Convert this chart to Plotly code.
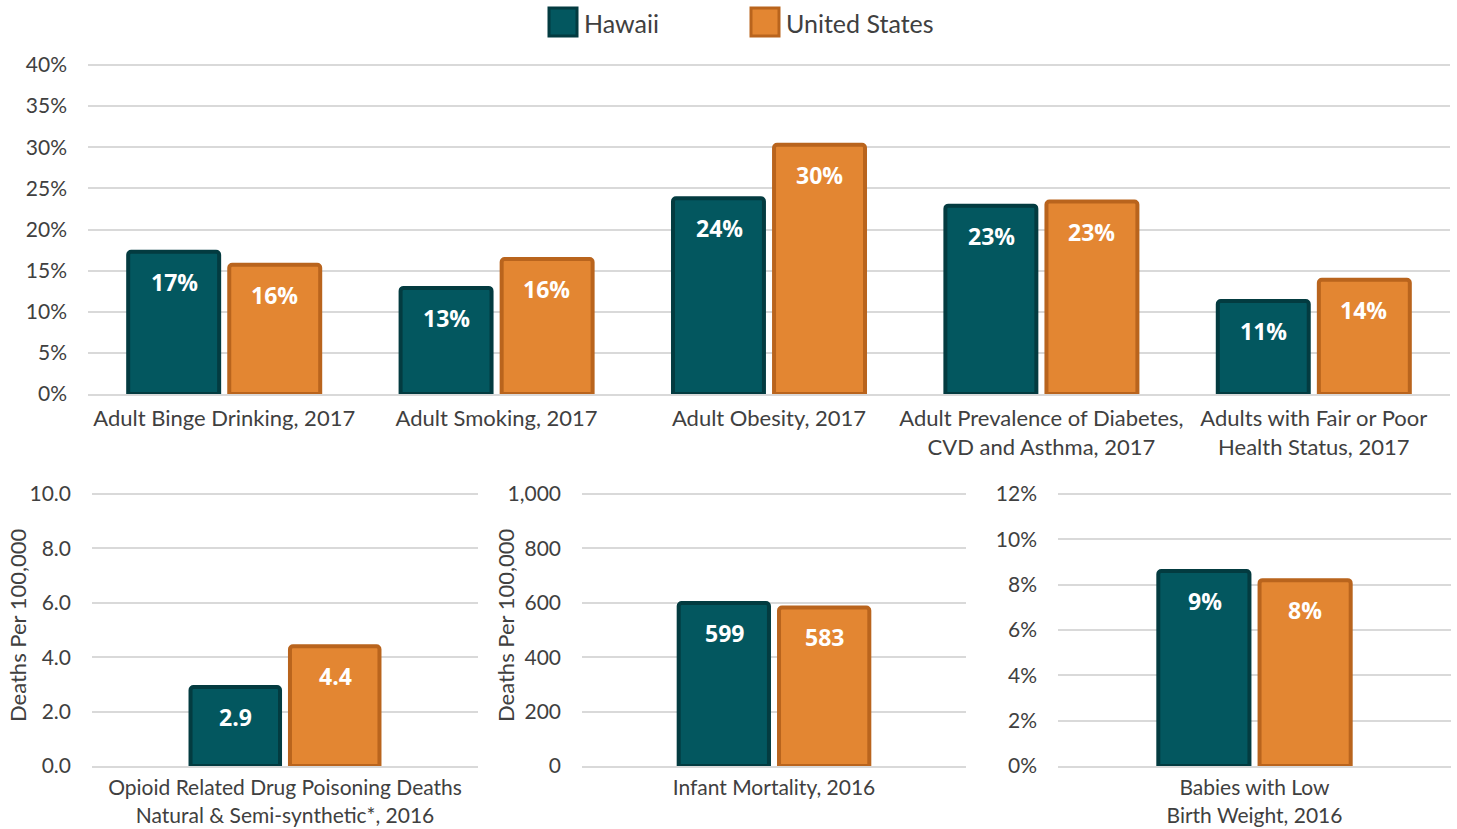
import plotly.graph_objects as go

# ---------------- data ----------------
top_categories = [
    "Adult Binge Drinking, 2017",
    "Adult Smoking, 2017",
    "Adult Obesity, 2017",
    "Adult Prevalence of Diabetes,<br>CVD and Asthma, 2017",
    "Adults with Fair or Poor<br>Health Status, 2017",
]
hawaii_top = [17.3, 12.9, 23.8, 22.9, 11.3]
us_top = [15.7, 16.4, 30.3, 23.4, 13.9]

opioid_category = ["Opioid Related Drug Poisoning Deaths<br>Natural & Semi-synthetic*, 2016"]
hawaii_opioid = [2.9]
us_opioid = [4.4]

infant_category = ["Infant Mortality, 2016"]
hawaii_infant = [599]
us_infant = [583]

lbw_category = ["Babies with Low<br>Birth Weight, 2016"]
hawaii_lbw = [8.6]
us_lbw = [8.2]

series_names = ["Hawaii", "United States"]
y_title = "Deaths Per 100,000"

# ---------------- style ----------------
HI_FILL, HI_LINE = "#03575F", "#033B40"
US_FILL, US_LINE = "#E38632", "#B9641D"
TEXT = "#404040"
GRID = "#D9D9D9"
FONT = "Lato, 'Open Sans', sans-serif"
BOLD = "'Liberation Sans Narrow', 'Open Sans', sans-serif"

W, H = 1457, 829

def px_x(p):
    return p / W

def px_y(p):
    return 1 - p / H

fig = go.Figure()

panels = [
    ("x", "y", top_categories, hawaii_top, us_top, lambda v: f"{round(v):d}%"),
    ("x2", "y2", opioid_category, hawaii_opioid, us_opioid, lambda v: f"{v:.1f}"),
    ("x3", "y3", infant_category, hawaii_infant, us_infant, lambda v: f"{v:,.0f}"),
    ("x4", "y4", lbw_category, hawaii_lbw, us_lbw, lambda v: f"{round(v):d}%"),
]

annotations = []
for xa, ya, cats, hv, uv, fmt in panels:
    for name, vals, fill, line, shift in [
        (series_names[0], hv, HI_FILL, HI_LINE, -50),
        (series_names[1], uv, US_FILL, US_LINE, 50),
    ]:
        fig.add_trace(go.Bar(
            x=cats, y=vals, name=name, xaxis=xa, yaxis=ya,
            marker=dict(color=fill, line=dict(color=line, width=4), cornerradius=3),
            showlegend=False, hoverinfo="x+y+name",
        ))
        for c, v in zip(cats, vals):
            annotations.append(dict(
                x=c, y=v, xref=xa, yref=ya, text=fmt(v), showarrow=False,
                xshift=shift, yshift=-30, yanchor="middle",
                font=dict(family=BOLD, size=23, color="white", weight="bold"),
            ))

# manual legend (large swatches like the reference)
legend_items = [(series_names[0], HI_FILL, HI_LINE, 549), (series_names[1], US_FILL, US_LINE, 751)]
shapes = []
for name, fill, line, x0 in legend_items:
    shapes.append(dict(type="rect", xref="paper", yref="paper",
                       x0=px_x(x0), x1=px_x(x0 + 28), y0=px_y(36), y1=px_y(8),
                       fillcolor=fill, line=dict(color=line, width=3), layer="above"))
    annotations.append(dict(x=px_x(x0 + 33), y=px_y(23), xref="paper", yref="paper",
                            xanchor="left", yanchor="middle", showarrow=False, text=name,
                            font=dict(family=FONT, size=25, color=TEXT)))

# y-axis titles of the two lower-left panels
for xpix in (17, 505):
    annotations.append(dict(x=px_x(xpix), y=px_y(625), xref="paper", yref="paper",
                            xanchor="center", yanchor="middle", showarrow=False,
                            text=y_title, textangle=-90,
                            font=dict(family=FONT, size=22, color=TEXT)))

tick_font = dict(family=FONT, size=21, color=TEXT)

def yaxis(rng, dtick, fmt=None, suffix=None, dom=None, anchor=None):
    d = dict(range=rng, dtick=dtick, tick0=0, showgrid=True, gridcolor=GRID, gridwidth=2,
             zeroline=False, showline=False, ticks="", tickfont=tick_font,
             ticklabelstandoff=20, domain=dom, anchor=anchor, fixedrange=True,
             automargin=False)
    if fmt:
        d["tickformat"] = fmt
    if suffix:
        d["ticksuffix"] = suffix
    return d

def xaxis(dom, anchor, rng=None, size=22, standoff=4):
    d = dict(domain=dom, anchor=anchor, showgrid=False, zeroline=False, showline=True,
             linecolor=GRID, linewidth=2, ticks="",
             tickfont=dict(family=FONT, size=size, color=TEXT),
             ticklabelstandoff=standoff, fixedrange=True, automargin=False)
    if rng:
        d["range"] = rng
    return d

top_dom_y = [px_y(394), px_y(63)]
bot_dom_y = [px_y(766), px_y(492)]

fig.update_layout(
    template="none",
    width=W, height=H, margin=dict(l=0, r=0, t=0, b=0, pad=0),
    paper_bgcolor="white", plot_bgcolor="white",
    barmode="group", bargap=0.258, bargroupgap=0.1,
    font=dict(family=FONT, color=TEXT),
    xaxis=xaxis([px_x(88), px_x(1450)], "y"),
    yaxis=yaxis([0, 40.245], 5, suffix="%", dom=top_dom_y, anchor="x"),
    xaxis2=xaxis([px_x(92), px_x(478)], "y2", [-0.72, 0.72], 21, 2),
    yaxis2=yaxis([0, 10.074], 2, fmt=".1f", dom=bot_dom_y, anchor="x2"),
    xaxis3=xaxis([px_x(582), px_x(966)], "y3", [-0.71, 0.71], 21, 2),
    yaxis3=yaxis([0, 1007.4], 200, fmt=",d", dom=bot_dom_y, anchor="x3"),
    xaxis4=xaxis([px_x(1058), px_x(1451)], "y4", [-0.72, 0.72], 21, 2),
    yaxis4=yaxis([0, 12.089], 2, suffix="%", dom=bot_dom_y, anchor="x4"),
    annotations=annotations, shapes=shapes,
    showlegend=False,
)

fig.write_html("out.html", config={"displayModeBar": False},
               post_script="document.body.style.margin='0px';document.body.style.overflow='hidden';")
